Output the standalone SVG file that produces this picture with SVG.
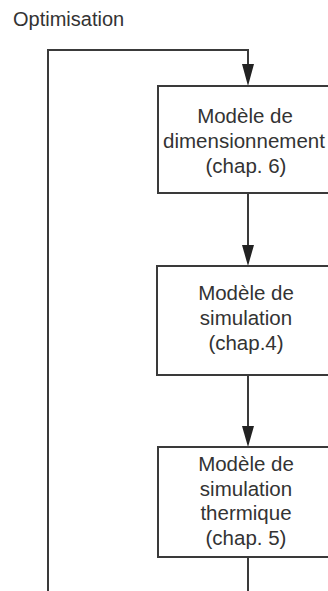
<svg xmlns="http://www.w3.org/2000/svg" width="328" height="591" viewBox="0 0 328 591">
<style>
.box{fill:#fff;stroke:#3a3a3a;stroke-width:2}
.ln{fill:none;stroke:#3a3a3a;stroke-width:2}
.ah{fill:#222}
text{font-family:"Liberation Sans",Arial,sans-serif;font-size:20.5px;fill:#333;text-anchor:middle}
</style>
<rect width="328" height="591" fill="#fff"/>
<text x="13" y="26" style="text-anchor:start;font-size:20px">Optimisation</text>
<g id="connectors">
<path class="ln" d="M48,591 V50 H248 V70"/>
<polygon class="ah" points="242,64 254,64 248,86"/>
<path class="ln" d="M248,193 V250"/>
<polygon class="ah" points="242,245 254,245 248,266"/>
<path class="ln" d="M248,375 V430"/>
<polygon class="ah" points="242,426 254,426 248,447"/>
<path class="ln" d="M248,557 V591"/>
</g>
<g id="n1">
<rect class="box" x="158" y="86" width="182" height="107"/>
<text x="245" y="123">Modèle de</text>
<text x="244" y="148">dimensionnement</text>
<text x="246" y="173">(chap. 6)</text>
</g>
<g id="n2">
<rect class="box" x="157" y="266" width="183" height="109"/>
<text x="246" y="300">Modèle de</text>
<text x="246" y="325">simulation</text>
<text x="246" y="350">(chap.4)</text>
</g>
<g id="n3">
<rect class="box" x="158" y="447" width="182" height="110"/>
<text x="246" y="471">Modèle de</text>
<text x="246" y="496">simulation</text>
<text x="246" y="520">thermique</text>
<text x="246" y="545">(chap. 5)</text>
</g>
</svg>
